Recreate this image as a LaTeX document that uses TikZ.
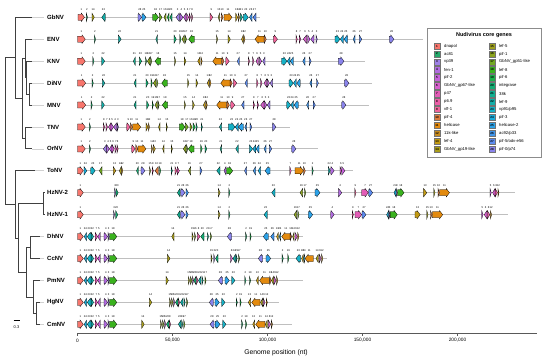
\documentclass[tikz,border=0pt]{standalone}
\usepackage{fontspec}
\setmainfont{Liberation Sans}
\usetikzlibrary{calc}
\definecolor{g1}{HTML}{F8766D}
\definecolor{g2}{HTML}{24A86A}
\definecolor{g3}{HTML}{9E80E6}
\definecolor{g4}{HTML}{B26BE0}
\definecolor{g5}{HTML}{C562DA}
\definecolor{g6}{HTML}{D65FCC}
\definecolor{g7}{HTML}{E35CB6}
\definecolor{g8}{HTML}{EB5DA6}
\definecolor{g9}{HTML}{F0649A}
\definecolor{g10}{HTML}{DC7A3C}
\definecolor{g11}{HTML}{E38A0E}
\definecolor{g12}{HTML}{C98C1E}
\definecolor{g13}{HTML}{C29A14}
\definecolor{g14}{HTML}{A99D1A}
\definecolor{g15}{HTML}{9EA01E}
\definecolor{g16}{HTML}{8CA41E}
\definecolor{g17}{HTML}{72A922}
\definecolor{g18}{HTML}{3AB21E}
\definecolor{g19}{HTML}{1DB04C}
\definecolor{g20}{HTML}{13AE74}
\definecolor{g21}{HTML}{12AE90}
\definecolor{g22}{HTML}{13ADA8}
\definecolor{g23}{HTML}{16B1C6}
\definecolor{g24}{HTML}{1AAADA}
\definecolor{g25}{HTML}{2CA2E8}
\definecolor{g26}{HTML}{4095EA}
\definecolor{g27}{HTML}{5C8BEE}
\definecolor{g28}{HTML}{8A84EC}
\tikzstyle{genearrow}=[draw=black, line width=0.25pt, line join=miter]
\tikzstyle{genelab}=[inner sep=0, font=\fontsize{2.7}{3}\selectfont]
\tikzstyle{treeline}=[draw=black!75, line width=0.8pt]
\tikzstyle{leafline}=[draw=black!18, line width=0.6pt, shorten >=3.5pt]
\tikzstyle{trackline}=[draw=black!25, line width=0.9pt]
\tikzstyle{taxon}=[anchor=west, inner sep=0, font=\bfseries\fontsize{6}{7}\selectfont]
\tikzstyle{swatch}=[draw=black!55, line width=0.3pt, minimum width=6.6pt, minimum height=6.4pt, inner sep=0, font=\bfseries\fontsize{3}{3}\selectfont]
\tikzstyle{legtext}=[anchor=west, inner sep=0, font=\fontsize{4.2}{4.8}\selectfont]
\tikzstyle{ticklab}=[inner sep=0, font=\fontsize{4.8}{5.5}\selectfont]

\newcounter{gid}
\newcommand{\genearr}[4]{%
  \stepcounter{gid}%
  \pgfmathsetmacro{\glen}{#3-(#2)}%
  \pgfmathsetmacro{\ghead}{ifthenelse(abs(\glen)>3.2,3.2*sign(\glen),\glen)}%
  \pgfmathsetmacro{\gneck}{#3-(\ghead)}%
  \draw[genearrow, fill=g#4] (#2,#1-3) -- (\gneck,#1-3) -- (\gneck,#1-4.2) -- (#3,#1) -- (\gneck,#1+4.2) -- (\gneck,#1+3) -- (#2,#1+3) -- cycle;%
  \node[genelab] (g\arabic{gid}) at ({(#2+#3)/2},#1-7.6) {#4};%
}

\begin{document}
\begin{tikzpicture}[x=1pt, y=-1pt]
\useasboundingbox (0,0) rectangle (550,361);

% tree
\foreach \nm/\yy/\tx in {GbNV/17.3/32, ENV/39.2/32, KNV/61.2/32, DiNV/83.1/32, MNV/105/32, TNV/127/32, OrNV/148.9/32, ToNV/170.8/35, HzNV-2/192.7/44.5, HzNV-1/214.7/44.5, DhNV/236.6/40, CcNV/258.5/40, PmNV/280.5/40, HgNV/302.4/40, CmNV/324.3/40}{
  \coordinate (t\nm) at (\tx,\yy);
  \node[taxon] (l\nm) at (47,\yy) {\nm};
  \draw[leafline] (t\nm) -- (l\nm.west);
}
\coordinate (root) at (5,131.1);
\coordinate (nA) at (15,57.75);
\coordinate (nB) at (22.3,98.2);
\coordinate (nC) at (25,58.4);
\coordinate (nD) at (26.7,77.6);
\coordinate (nE) at (29,94.05);
\coordinate (nT) at (25,137.95);
\coordinate (nF) at (15,204.4);
\coordinate (nG) at (18.3,237.95);
\coordinate (nHz) at (43.3,203.7);
\coordinate (nH) at (26.7,272.2);
\coordinate (nI) at (30,247.55);
\coordinate (nJ) at (33.3,296.9);
\coordinate (nK) at (36.7,313.35);
\draw[treeline] (root) |- (nA);
\draw[treeline] (root) |- (nF);
\draw[treeline] (nA) |- (tGbNV);
\draw[treeline] (nA) |- (nB);
\draw[treeline] (nB) |- (nC);
\draw[treeline] (nB) |- (nT);
\draw[treeline] (nC) |- (tENV);
\draw[treeline] (nC) |- (nD);
\draw[treeline] (nD) |- (tKNV);
\draw[treeline] (nD) |- (nE);
\draw[treeline] (nE) |- (tDiNV);
\draw[treeline] (nE) |- (tMNV);
\draw[treeline] (nT) |- (tTNV);
\draw[treeline] (nT) |- (tOrNV);
\draw[treeline] (nF) |- (tToNV);
\draw[treeline] (nF) |- (nG);
\draw[treeline] (nG) |- (nHz);
\draw[treeline] (nG) |- (nH);
\draw[treeline] (nHz) |- (tHzNV-2);
\draw[treeline] (nHz) |- (tHzNV-1);
\draw[treeline] (nH) |- (nI);
\draw[treeline] (nH) |- (nJ);
\draw[treeline] (nI) |- (tDhNV);
\draw[treeline] (nI) |- (tCcNV);
\draw[treeline] (nJ) |- (tPmNV);
\draw[treeline] (nJ) |- (nK);
\draw[treeline] (nK) |- (tHgNV);
\draw[treeline] (nK) |- (tCmNV);
\coordinate (sb1) at (13.5,320);
\coordinate (sb2) at (19.5,320);
\draw[line width=1pt] (sb1) -- (sb2);
\node[inner sep=0, font=\fontsize{4}{5}\selectfont] (sblab) at (16.5,327) {0.3};

% genomes
\foreach \yy/\e in {17.3/260, 39.2/423, 61.2/365, 83.1/371.7, 105/369, 127/290, 148.9/318.3, 170.8/352.7, 192.7/515, 214.7/508.3, 236.6/303.3, 258.5/327.3, 280.5/303.3, 302.4/279.3, 324.3/292.3}
  \draw[trackline] (77.5,\yy) -- (\e,\yy);

\foreach \a/\b/\c in {78/84.5/1, 86.3/87.5/2, 92/94.3/14, 105.3/101.7/22, 138/141.7/28, 141.9/146/25, 152.7/158.5/18, 159.3/162/17, 166/164/16, 169/167.2/19, 172/170/20, 179.5/176/3, 180/183/4, 186/183.5/5, 186.5/188.7/6, 189.2/190.6/7, 191.5/192.8/8, 210/212.8/9, 219.5/218.2/15, 221.3/223/10, 224/232/11, 235.7/237.7/13, 238.3/239.6/12, 240.4/242.6/21, 243.3/248.3/23, 252/249.5/26, 256/253/27}
  \genearr{17.3}{\a}{\b}{\c};
\foreach \a/\b/\c in {77.5/85.3/1, 94.4/95.6/2, 118.3/121.2/22, 157.4/155.8/21, 174/176.3/20, 179.8/181/19, 184.3/182/16, 185/186.6/17, 194.3/188.7/18, 216.5/217.7/15, 228/230.3/14, 243.3/241.5/13, 243.8/245/12, 264/255/11, 264.3/266.3/10, 273.3/277.5/9, 296/297.3/8, 299.2/300.8/7, 306.7/303.3/6, 307.7/310/5, 314/310.7/4, 316/317.3/3, 335/340/23, 343.3/340.3/24, 347.5/344/25, 355/353.2/26, 359.3/361.8/27, 389.3/394/28}
  \genearr{39.2}{\a}{\b}{\c};
\foreach \a/\b/\c in {77.5/85.3/1, 92.8/94/2, 101.7/104.7/22, 135.3/133.3/21, 139.3/141.7/20, 145.5/146.7/19, 150/147.3/16, 150.6/151.8/17, 160.7/155/18, 174.6/175.8/15, 184.2/186/14, 200/197.7/13, 201/202.2/12, 221.7/212.7/11, 222.1/224/10, 225.8/229.3/9, 239.3/237.2/27, 248.3/249.6/8, 252.6/254/7, 258.3/256/6, 259.3/261.7/5, 265/262.7/3, 281.7/287/23, 290/287.2/24, 293.3/290.2/25, 305/302.7/26, 309.3/311.2/27, 338.3/344/28}
  \genearr{61.2}{\a}{\b}{\c};
\foreach \a/\b/\c in {77.5/85.7/1, 92.1/93.3/2, 102.3/104.9/22, 136/134/21, 146/148.2/20, 151.1/152.3/19, 156/153.3/16, 156.8/158/17, 167.3/161.7/18, 187.7/188.9/15, 196/197.8/14, 209.3/207.2/13, 209.8/211/12, 230/220.7/11, 230.2/232.2/10, 233.3/236.8/9, 247.3/245/27, 256.7/258.1/8, 260.6/262/7, 266.7/264/6, 267.3/269.5/5, 272.7/270/3, 289/293.3/23, 296.2/293.5/24, 300.2/296.7/25, 311.8/309.8/26, 316.6/318.4/27, 344.3/349/28}
  \genearr{83.1}{\a}{\b}{\c};
\foreach \a/\b/\c in {77.5/85.7/1, 91.1/92.3/2, 101.7/104.4/22, 136/134/21, 146.7/148.8/20, 152.2/153.4/19, 157.3/155/16, 158/159.2/17, 167.7/162.3/18, 184.4/185.6/15, 192.6/194.4/14, 205.4/203.3/13, 206.1/207.3/12, 226.7/216.7/11, 227.1/229.3/10, 230.7/234.8/9, 244/241.6/27, 253.2/254.6/8, 257.2/258.6/7, 264/260.7/6, 264.3/266.8/5, 270/267.3/3, 286.7/290.7/23, 293.4/290.9/24, 298.3/294/25, 308.7/306.6/26, 313.2/315.3/27, 341.7/346/28}
  \genearr{105}{\a}{\b}{\c};
\foreach \a/\b/\c in {77.5/85.3/1, 89.4/90.6/2, 103.3/104.7/8, 106/107.5/7, 111/108.4/6, 111/113.5/5, 116.6/113.6/4, 117.2/118.5/3, 126.7/130.2/9, 130.4/132.4/10, 132.7/140.7/11, 146/148.1/13, 148.4/149.6/12, 160/158.5/14, 166.2/167.4/15, 179.3/185/18, 185.3/188.3/17, 190/192/16, 193/195.2/19, 196.1/197.3/20, 201.2/202.4/21, 221.7/219.3/22, 228.3/235/23, 238.3/235.2/24, 243.3/238.5/25, 246.7/244.8/26, 250/251.8/27, 272.3/276/28}
  \genearr{127}{\a}{\b}{\c};
\foreach \a/\b/\c in {77.5/85.3/1, 89.4/90.6/2, 106.7/103.3/3, 106.8/109.3/4, 112/109.4/5, 112.1/114.2/6, 115/116.6/7, 117/118.2/8, 131.7/135.2/9, 135.8/137.8/10, 138/146/11, 151.4/152.6/12, 153.3/155.4/13, 164/162.6/14, 171.2/172.4/15, 186/183.3/16, 186.6/187.8/17, 194/188.3/18, 200.7/202.2/19, 205/206.8/20, 221.7/220/21, 238.3/235.7/22, 249.3/252.6/23, 255.8/252.8/24, 259/256/25, 266.1/264/26, 269.3/271.8/27, 291.7/296/28}
  \genearr{148.9}{\a}{\b}{\c};
\foreach \a/\b/\c in {77.5/83.3/1, 84/86.8/24, 90.7/95.2/23, 102/99.3/17, 113.3/115.8/13, 121.3/119.3/14, 121.6/122.8/12, 138.3/136.5/20, 141/145/28, 149.5/150.7/15, 152.2/153.4/8, 158.3/155/10, 159.6/160.8/19, 171.2/172.4/21, 175/176.8/9, 177.2/179.4/7, 190.7/188.3/16, 200/202/27, 220/216.7/22, 226/224/4, 226.7/232.7/18, 246.5/244.5/27, 255.5/253.2/26, 260.5/258.2/24, 270/265/25, 289.8/291.2/7, 295/303.5/11, 303.6/305.3/10, 312.1/313.3/2, 328.3/330.2/22, 330.7/334.2/4, 340/341.7/6, 341.8/345/5}
  \genearr{170.8}{\a}{\b}{\c};
\foreach \a/\b/\c in {77.5/83.3/1, 114.6/115.8/3, 116/118.2/20, 180/177.3/21, 180.7/185/28, 186/188.4/26, 218.3/220.2/14, 228.8/230/2, 275/271.7/23, 302.7/300/16, 304.6/305.8/17, 315/320/25, 338.3/341.8/4, 354.8/356/9, 361.7/368.3/7, 368.6/372.7/27, 396/394/24, 396.4/397.4/3, 397.6/404/18, 423.3/426.8/13, 433.8/435/15, 438/439.3/10, 439.5/449.5/11, 490/491.3/5, 495/492.6/6, 495.2/497.4/8, 497.9/499/12}
  \genearr{192.7}{\a}{\b}{\c};
\foreach \a/\b/\c in {77.5/83.3/1, 113.5/114.7/3, 115.7/117.8/20, 180/177.3/21, 180.7/185/28, 186/188.2/26, 218.3/220.2/14, 228.8/230/2, 267.3/264/23, 296.7/294/16, 297.8/299/17, 308.3/312.7/25, 330.7/334.2/4, 352.2/353.4/9, 355/361.7/7, 362/366/27, 388.7/386.6/24, 389/390/3, 390.2/397.3/18, 415/420.2/13, 426.8/428/15, 430.5/432/10, 432.3/442.7/11, 481.7/483/5, 487/484.2/6, 487.3/489.8/8, 490.4/491.6/12}
  \genearr{214.7}{\a}{\b}{\c};
\foreach \yy in {236.6, 258.5, 280.5, 302.4, 324.3}
  \foreach \a/\b/\c in {77.5/83.3/1, 86.6/84.2/24, 91/87.2/23, 91.2/93.6/22, 95.2/97.6/7, 100.2/97.8/5, 104/107.6/4, 108/109.2/3, 109.6/116.8/18}
    \genearr{\yy}{\a}{\b}{\c};
\foreach \a/\b/\c in {174/171.7/14, 192.1/193.3/15, 194.5/195.7/16, 197.3/200/8, 204/200.7/20, 207.4/208.6/21, 210.4/211.6/17, 231.7/227.3/28, 245.6/246.8/2, 250/251.2/19, 268.3/263.3/25, 274/270.7/26, 278.3/276.6/13, 280.7/279.2/24, 290/281.7/11, 290.2/291.7/10, 294/292.6/14, 295/297.3/6, 297.7/298.9/12}
  \genearr{236.6}{\a}{\b}{\c};
\foreach \a/\b/\c in {167.3/170/14, 211/212.2/15, 213.8/215/3, 218/215.5/20, 230.5/232.5/6, 235.5/233/22, 236/237.2/21, 238.5/239.7/17, 262.7/258.3/28, 266/270.7/25, 282.1/283.3/2, 287.8/289/19, 300.7/296/23, 303.3/301.6/13, 304.7/303.4/24, 313.3/305/11, 318.3/316/14, 319.3/321/6, 321.6/322.8/12}
  \genearr{258.5}{\a}{\b}{\c};
\foreach \a/\b/\c in {166/168.4/14, 188.4/189.6/15, 190.4/192/16, 192.5/193.7/5, 196/193.8/20, 196.4/198/8, 201/198.4/22, 202/203.2/21, 204.9/206.1/17, 222.7/218.3/28, 225/229.3/25, 231.7/235/23, 244.8/246/2, 249.5/250.7/19, 258.3/256.3/13, 269.5/259.5/11, 269.8/271.2/10, 273.5/271.5/14, 274/276/6, 276.6/277.8/12}
  \genearr{280.5}{\a}{\b}{\c};
\foreach \a/\b/\c in {149.3/151.8/14, 169.6/170.8/15, 171.6/173/16, 173.6/174.8/5, 178/175.4/20, 178.3/179.7/8, 183/180.4/22, 184/185.2/21, 186.6/187.8/17, 213.3/209.3/28, 215/219.3/25, 221.7/225/23, 236.2/237.4/2, 240/241.2/19, 250.7/248.3/13, 260/251.7/11, 262.7/260.5/14, 263.3/265/6, 266.2/267.4/12}
  \genearr{302.4}{\a}{\b}{\c};
\foreach \a/\b/\c in {141.7/144.2/14, 160.5/161.7/15, 162.5/164/16, 164.6/165.8/5, 169/166.4/20, 169.3/170.7/8, 181/178.3/22, 181.7/182.9/21, 183.8/185/17, 214/210/28, 215.2/220/25, 222.7/226/23, 241.6/242.8/2, 245.6/246.8/19, 254.7/252.7/13, 265/255.7/11, 267.3/265.3/14, 268.3/270.7/6, 271.3/272.5/12}
  \genearr{324.3}{\a}{\b}{\c};

% axis
\coordinate (ax0) at (77,333);
\coordinate (ax1) at (537,333);
\draw[draw=black!65, line width=0.9pt] (ax0) -- (ax1);
\foreach \v/\t in {0/0, 50/{50,000}, 100/{100,000}, 150/{150,000}, 200/{200,000}}{
  \draw[draw=black!65, line width=0.6pt] (77.5+1.9*\v,333) -- (77.5+1.9*\v,335.5);
  \node[ticklab] (tick\v) at (77.5+1.9*\v,340.5) {\t};
}
\node[inner sep=0, font=\fontsize{6.8}{8}\selectfont] (xtitle) at (276,352.5) {Genome position (nt)};

% legend
\draw[draw=black!45, line width=0.6pt, fill=white] (427,28) rectangle (541,157);
\node[inner sep=0, font=\bfseries\fontsize{5.5}{6.5}\selectfont] (legtitle) at (484,35.3) {Nudivirus core genes};
\foreach \n/\t in {1/dnapol, 2/ac81, 3/vp39, 4/fen-1, 5/pif-2, 6/GbNV\_gp67-like, 7/p47, 8/p6.9, 9/vlf-1, 10/pif-4, 11/helicase, 12/11k-like, 13/lef-4, 14/GbNV\_gp19-like}{
  \node[swatch, fill=g\n] (s\n) at (437,46+7.93*\n-7.93) {\n};
  \node[legtext] (k\n) at (444,46+7.93*\n-7.93) {\t};
}
\foreach \n/\t in {15/lef-5, 16/pif-1, 17/GbNV\_gp51-like, 18/lef-8, 19/pif-6, 20/integrase, 21/38k, 22/lef-9, 23/{vp91/p95}, 24/pif-3, 25/helicase-2, 26/{ac92/p33}, 27/{pif-5/odv-e56}, 28/{pif-0/p74}}{
  \node[swatch, fill=g\n] (s\n) at (492,46+7.93*\n-7.93*15) {\n};
  \node[legtext] (k\n) at (499,46+7.93*\n-7.93*15) {\t};
}
\end{tikzpicture}
\end{document}
